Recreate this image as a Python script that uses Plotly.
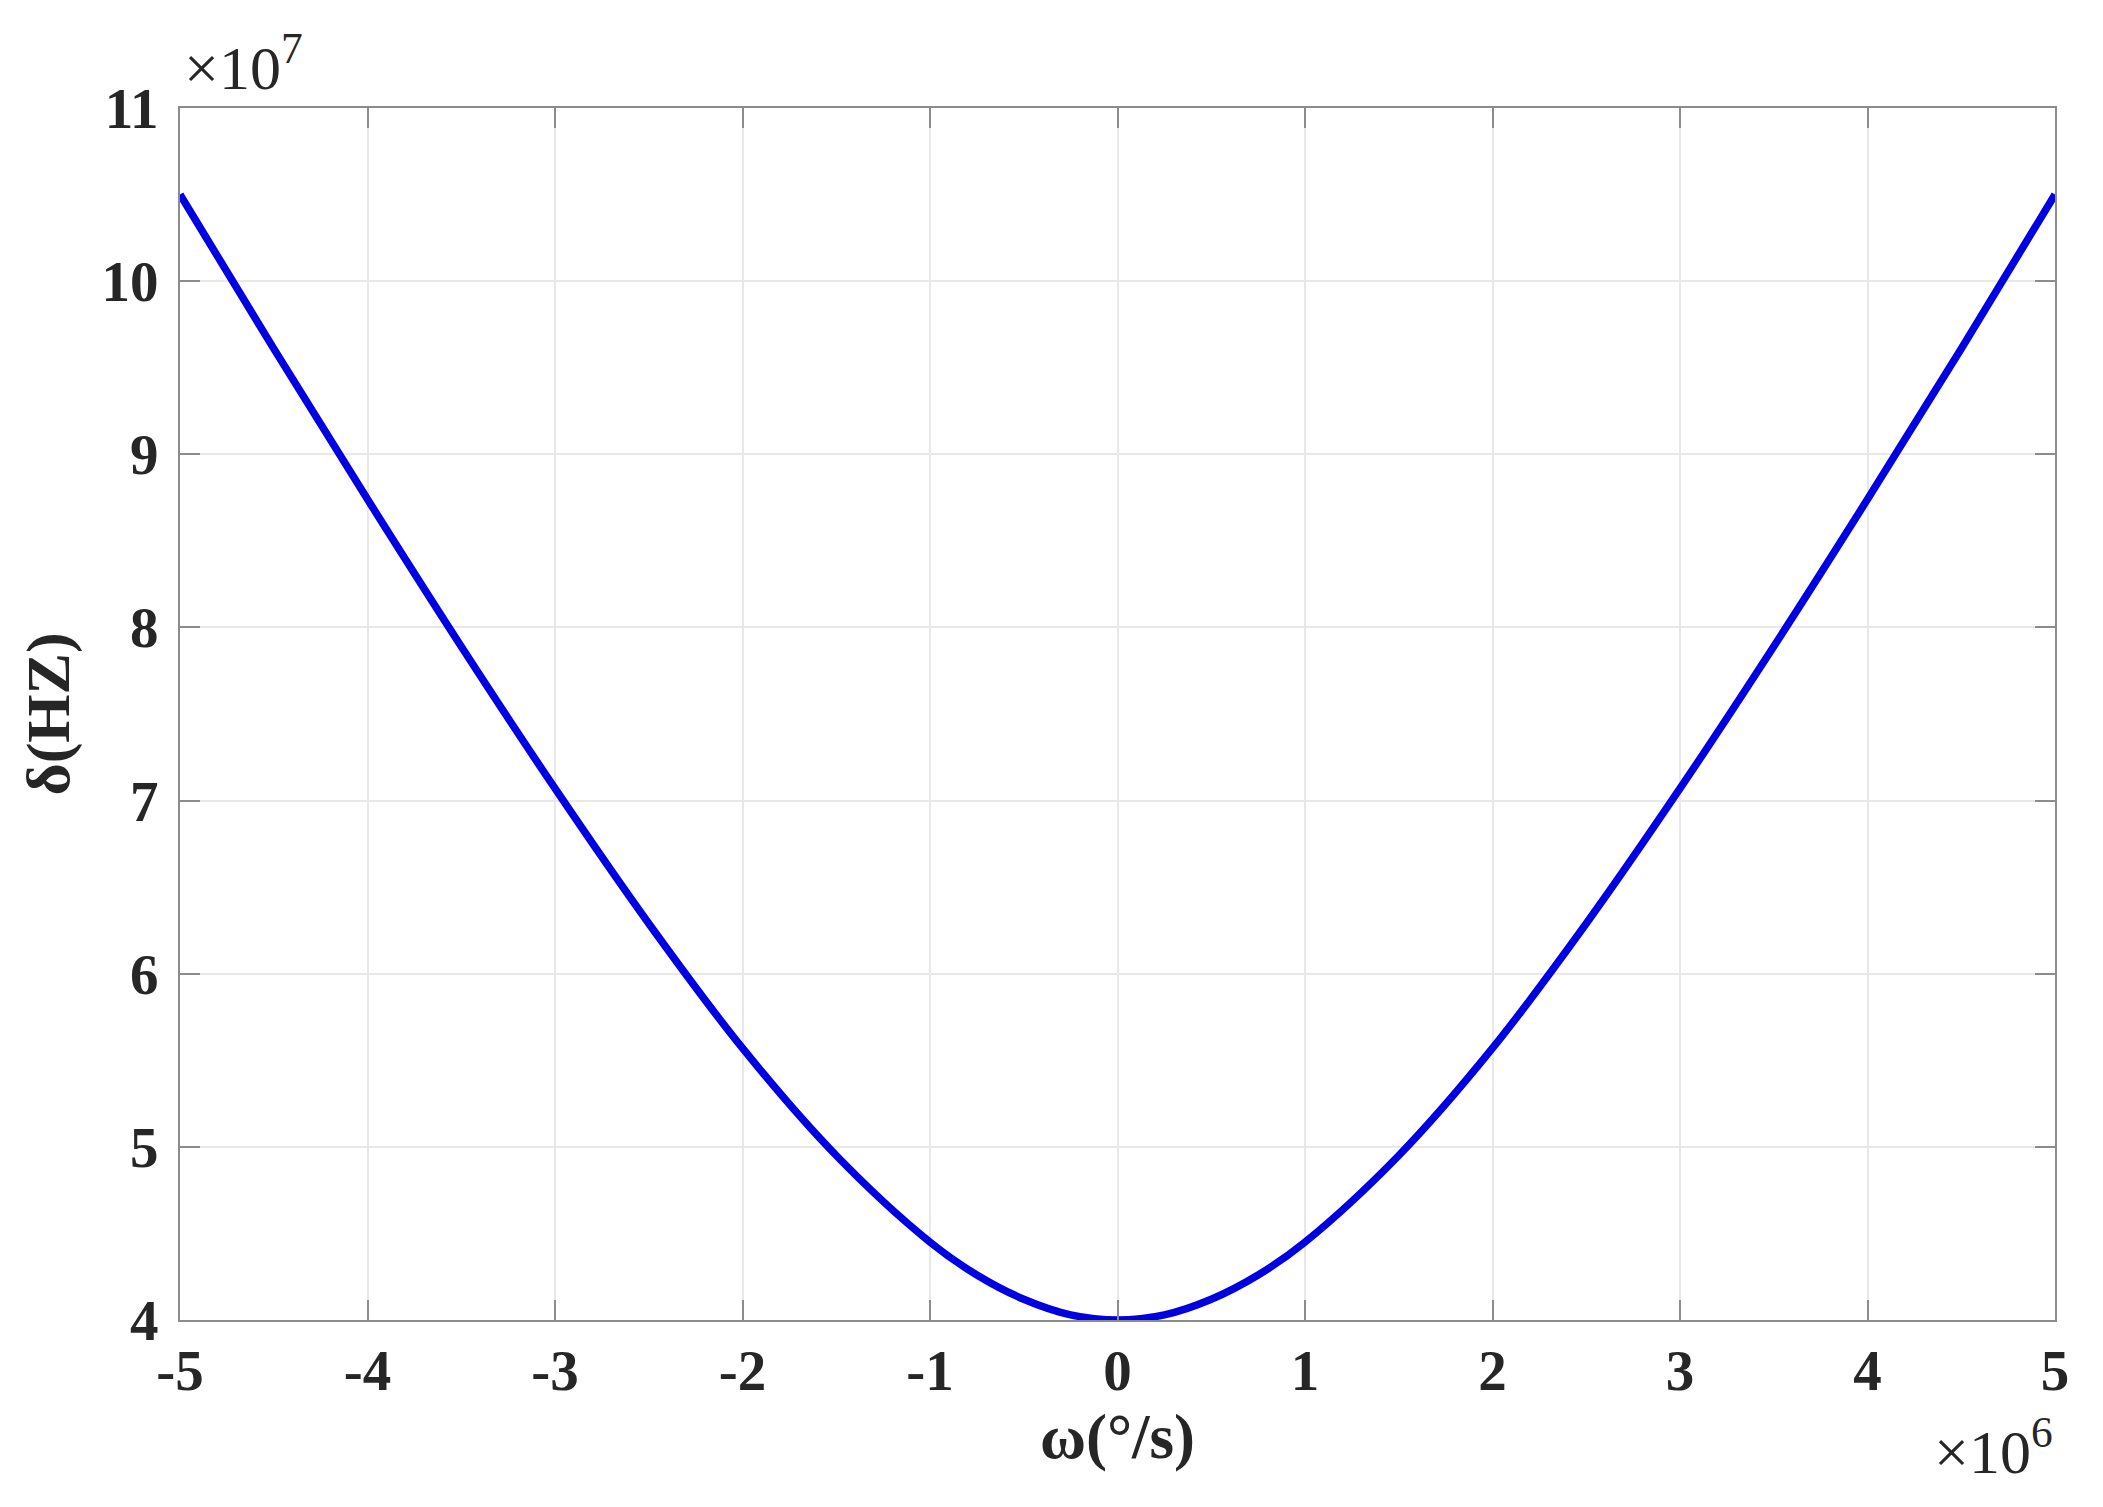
import plotly.graph_objects as go

# omega in units of 1e6 deg/s, delta in units of 1e7 Hz
omega = [-5.0, -4.5, -4.0, -3.5, -3.0, -2.5, -2.0, -1.5, -1.0, -0.75, -0.5, -0.25, 0.0,
         0.25, 0.5, 0.75, 1.0, 1.5, 2.0, 2.5, 3.0, 3.5, 4.0, 4.5, 5.0]
delta = [10.50, 9.61, 8.74, 7.89, 7.07, 6.29, 5.57, 4.95, 4.45, 4.26, 4.12, 4.03, 4.00,
         4.03, 4.12, 4.26, 4.45, 4.95, 5.57, 6.29, 7.07, 7.89, 8.74, 9.61, 10.50]

x_ticks = [-5, -4, -3, -2, -1, 0, 1, 2, 3, 4, 5]
x_ticktext = ["-5", "-4", "-3", "-2", "-1", "0", "1", "2", "3", "4", "5"]
y_ticks = [4, 5, 6, 7, 8, 9, 10, 11]
y_ticktext = ["4", "5", "6", "7", "8", "9", "10", "11"]

FONT = "Liberation Serif"
TXT = "#262626"
AX = "#8c8c8c"

fig = go.Figure()
fig.add_trace(go.Scatter(
    x=omega, y=delta, mode="lines",
    line=dict(color="#0000e0", width=7.5, shape="spline", smoothing=1.0),
    showlegend=False,
))

axis_common = dict(
    showgrid=True, gridcolor="#e8e8e8", gridwidth=2,
    showline=True, linecolor=AX, linewidth=2, mirror="ticks",
    ticks="inside", ticklen=20, tickwidth=2, tickcolor=AX,
    zeroline=False,
    tickfont=dict(family=FONT, size=57, color=TXT, weight="bold"),
)

fig.update_xaxes(
    range=[-5, 5], tickvals=x_ticks, ticktext=x_ticktext,
    title=dict(text="ω(°/s)", font=dict(family=FONT, size=63, color=TXT, weight="bold"), standoff=10),
    **axis_common,
)
fig.update_yaxes(
    range=[4, 11], tickvals=y_ticks, ticktext=y_ticktext, ticklabelstandoff=8,
    title=dict(text="δ(HZ)", font=dict(family=FONT, size=62, color=TXT, weight="bold"), standoff=12),
    **axis_common,
)

fig.add_annotation(x=0, y=1, xref="paper", yref="paper", xanchor="left", yanchor="bottom",
                   text="×10<sup>7</sup>", showarrow=False, yshift=4, xshift=2,
                   font=dict(family=FONT, size=62, color=TXT))
fig.add_annotation(x=1, y=0, xref="paper", yref="paper", xanchor="right", yanchor="top",
                   text="×10<sup>6</sup>", showarrow=False, yshift=-86,
                   font=dict(family=FONT, size=62, color=TXT))

fig.update_layout(
    width=2103, height=1507,
    paper_bgcolor="white", plot_bgcolor="white",
    margin=dict(l=172, r=56, t=100, b=195),
)

fig.write_html("out.html")
